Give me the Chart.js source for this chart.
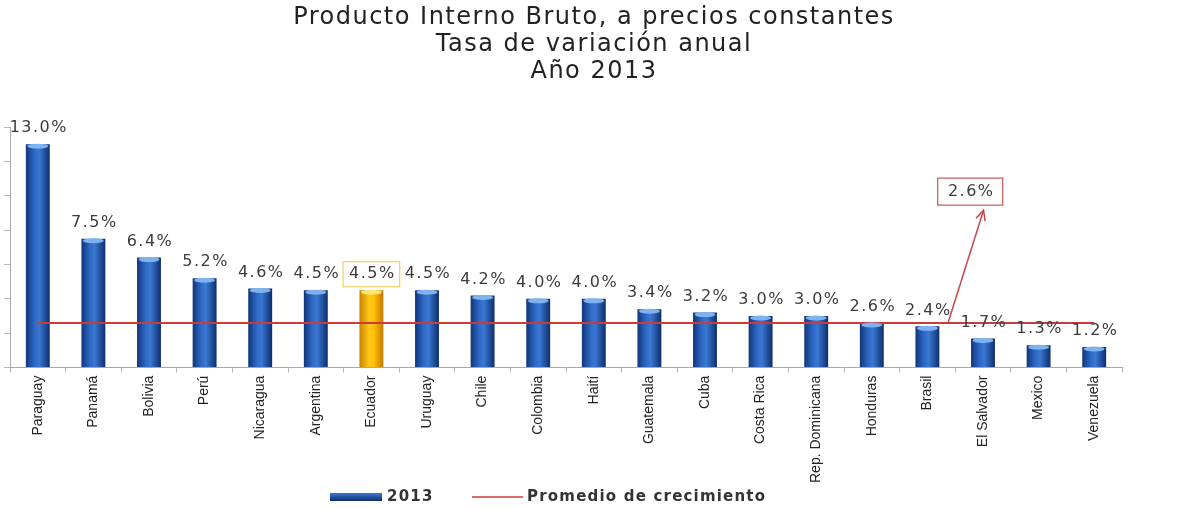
<!DOCTYPE html>
<html><head><meta charset="utf-8">
<script src="https://cdn.jsdelivr.net/npm/chart.js@4.4.1/dist/chart.umd.min.js"></script>
<style>html,body{margin:0;padding:0;background:#fff;} #wrap{width:1180px;height:509px;}</style>
</head><body><div id="wrap"><canvas id="c" width="1180" height="509"></canvas></div>
<script>
// ---- data ----
const titleLines = ['Producto Interno Bruto, a precios constantes', 'Tasa de variación anual', 'Año 2013'];
const countries = ['Paraguay','Panamá','Bolivia','Perú','Nicaragua','Argentina','Ecuador','Uruguay','Chile','Colombia','Haití','Guatemala','Cuba','Costa Rica','Rep. Dominicana','Honduras','Brasil','El Salvador','Mexico','Venezuela'];
const growth2013 = [13.0, 7.5, 6.4, 5.2, 4.6, 4.5, 4.5, 4.5, 4.2, 4.0, 4.0, 3.4, 3.2, 3.0, 3.0, 2.6, 2.4, 1.7, 1.3, 1.2];
const averageGrowth = [2.6, 2.6, 2.6, 2.6, 2.6, 2.6, 2.6, 2.6, 2.6, 2.6, 2.6, 2.6, 2.6, 2.6, 2.6, 2.6, 2.6, 2.6, 2.6, 2.6];
const averageValue = 2.6;
const highlightCountry = 'Ecuador';
const seriesLabels = ['2013', 'Promedio de crecimiento'];
const yMin = 0, yMax = 14, yStep = 2;

// ---- styling / layout constants ----
const BAR_FRAC = 0.43;
const LABEL_FONT = '16px "DejaVu Sans"';
const ANNOT = { fromIndex: 16.37, toIndex: 17.01, toValue: 9.16, boxIndex: 16.77, boxValue: 10.24, boxW: 65, boxH: 27 };

function barFill(ctx) {
  const chart = ctx.chart;
  const hi = countries[ctx.dataIndex] === highlightCountry;
  const area = chart.chartArea, xs = chart.scales.x;
  if (!area || !xs || ctx.type !== 'data') return hi ? '#f5b800' : '#2a5db0';
  const x = xs.getPixelForValue(ctx.dataIndex);
  const w = area.width / countries.length * BAR_FRAC;
  const g = chart.ctx.createLinearGradient(x - w / 2, 0, x + w / 2, 0);
  if (hi) {
    g.addColorStop(0, '#c98400'); g.addColorStop(0.4, '#ffc81a'); g.addColorStop(0.6, '#ffc000'); g.addColorStop(1, '#c27a00');
  } else {
    g.addColorStop(0, '#11357a'); g.addColorStop(0.35, '#2d68c4'); g.addColorStop(0.55, '#3a78d4'); g.addColorStop(1, '#0e2e6c');
  }
  return g;
}

const decorations = {
  id: 'decorations',
  beforeDraw(chart) {
    const ctx = chart.ctx;
    ctx.save();
    ctx.font = '24px "DejaVu Sans"';
    ctx.letterSpacing = '1.5px';
    ctx.textAlign = 'center';
    ctx.textBaseline = 'middle';
    ctx.fillStyle = '#222';
    titleLines.forEach((t, i) => ctx.fillText(t, 594, 18 + i * 27));
    ctx.restore();
  },
  afterDatasetsDraw(chart) {
    const ctx = chart.ctx;
    const meta = chart.getDatasetMeta(1);
    const xs = chart.scales.x, ys = chart.scales.y;
    ctx.save();
    meta.data.forEach((bar, i) => {
      const hi = countries[i] === highlightCountry;
      ctx.beginPath();
      ctx.ellipse(bar.x, bar.y + 2, bar.width / 2 - 1.5, 2.5, 0, 0, Math.PI * 2);
      ctx.fillStyle = hi ? '#ffe37a' : '#7fb2f0';
      ctx.fill();
    });
    ctx.font = LABEL_FONT;
    ctx.letterSpacing = '1.5px';
    ctx.textAlign = 'center';
    ctx.textBaseline = 'middle';
    ctx.fillStyle = '#3c3c3c';
    meta.data.forEach((bar, i) => {
      const text = growth2013[i].toFixed(1) + '%';
      const y = bar.y - 16;
      ctx.fillText(text, bar.x + 1, y);
      if (countries[i] === highlightCountry) {
        const w = ctx.measureText(text).width + 10;
        ctx.strokeStyle = '#f0d060';
        ctx.lineWidth = 1.2;
        ctx.strokeRect(bar.x - w / 2, y - 12.5, w, 25);
      }
    });
    const x0 = xs.getPixelForValue(ANNOT.fromIndex), y0 = ys.getPixelForValue(averageValue);
    const x1 = xs.getPixelForValue(ANNOT.toIndex), y1 = ys.getPixelForValue(ANNOT.toValue);
    ctx.strokeStyle = '#c8464a';
    ctx.lineWidth = 1.5;
    ctx.beginPath(); ctx.moveTo(x0, y0); ctx.lineTo(x1, y1); ctx.stroke();
    const ang = Math.atan2(y1 - y0, x1 - x0);
    ctx.beginPath();
    ctx.moveTo(x1 - 11 * Math.cos(ang - 0.45), y1 - 11 * Math.sin(ang - 0.45));
    ctx.lineTo(x1, y1);
    ctx.lineTo(x1 - 11 * Math.cos(ang + 0.45), y1 - 11 * Math.sin(ang + 0.45));
    ctx.stroke();
    const bx = xs.getPixelForValue(ANNOT.boxIndex), by = ys.getPixelForValue(ANNOT.boxValue);
    ctx.lineWidth = 1.2;
    ctx.strokeStyle = '#c05858';
    ctx.fillStyle = '#ffffff';
    ctx.fillRect(bx - ANNOT.boxW / 2, by - ANNOT.boxH / 2, ANNOT.boxW, ANNOT.boxH);
    ctx.strokeRect(bx - ANNOT.boxW / 2, by - ANNOT.boxH / 2, ANNOT.boxW, ANNOT.boxH);
    ctx.fillStyle = '#3c3c3c';
    ctx.fillText(averageValue.toFixed(1) + '%', bx + 1, by);
    ctx.restore();
  },
  afterDraw(chart) {
    const ctx = chart.ctx;
    const ds = chart.data.datasets;
    const y = 497;
    ctx.save();
    ctx.font = 'bold 15px "DejaVu Sans"';
    ctx.letterSpacing = '1.2px';
    ctx.textBaseline = 'middle';
    ctx.textAlign = 'left';
    let x = 330;
    const g = ctx.createLinearGradient(0, y - 4, 0, y + 4);
    g.addColorStop(0, '#3a78d4'); g.addColorStop(1, '#0e2e6c');
    ctx.fillStyle = g;
    ctx.fillRect(x, y - 4, 52, 8);
    ctx.fillStyle = '#333';
    ctx.fillText(ds[1].label, x + 57, y);
    x = 472;
    ctx.strokeStyle = ds[0].borderColor;
    ctx.lineWidth = 1.5;
    ctx.beginPath(); ctx.moveTo(x, y); ctx.lineTo(x + 51, y); ctx.stroke();
    ctx.fillText(ds[0].label, x + 55, y);
    ctx.restore();
  }
};

new Chart(document.getElementById('c'), {
  data: {
    labels: countries,
    datasets: [
      { type: 'line', label: seriesLabels[1], data: averageGrowth, borderColor: '#cc3a3a', borderWidth: 2, pointRadius: 0, fill: false, order: 0 },
      { type: 'bar', label: seriesLabels[0], data: growth2013, backgroundColor: barFill, borderWidth: 0, barPercentage: BAR_FRAC, categoryPercentage: 1, order: 1 }
    ]
  },
  options: {
    responsive: false,
    animation: false,
    layout: { padding: { left: 4, right: 58, top: 127, bottom: 23 } },
    plugins: {
      legend: { display: false },
      tooltip: { enabled: false },
      title: { display: false }
    },
    scales: {
      x: {
        offset: true,
        grid: { display: true, drawOnChartArea: false, tickLength: 5, color: '#b8b8b8', offset: true },
        border: { color: '#a8a8a8' },
        ticks: { autoSkip: false, minRotation: 90, maxRotation: 90, padding: 3, color: '#222', font: { family: '"Liberation Sans", sans-serif', size: 14 } }
      },
      y: {
        min: yMin, max: yMax,
        ticks: { display: false, stepSize: yStep },
        grid: { display: true, drawOnChartArea: false, tickLength: 6, color: '#b8b8b8' },
        border: { color: '#a8a8a8' }
      }
    }
  },
  plugins: [decorations]
});
</script></body></html>
